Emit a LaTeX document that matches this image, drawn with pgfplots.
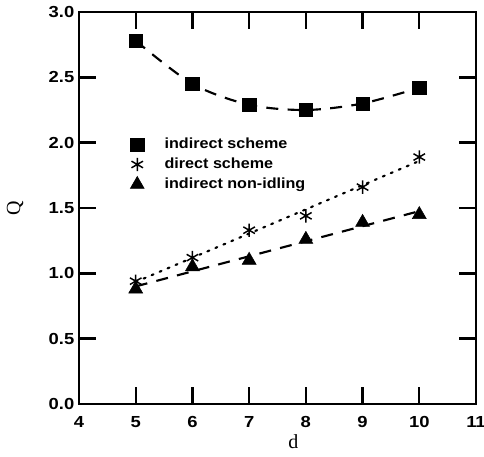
\documentclass[border=0pt]{standalone}
\usepackage{fontspec}
\setmainfont{Liberation Serif}
\newfontfamily\tickf[FakeStretch=1.15]{Liberation Sans}
\newfontfamily\legf[FakeStretch=1.1]{Liberation Sans}
\usepackage{pgfplots}
\pgfplotsset{compat=1.18}
\begin{document}
\begin{tikzpicture}
\useasboundingbox (-59.25pt,-39pt) rectangle (303.75pt,303pt);
\begin{axis}[
  scale only axis,
  width=297.75pt, height=294pt,
  xmin=4, xmax=11, ymin=0, ymax=3,
  xtick={4,5,6,7,8,9,10,11},
  ytick={0,0.5,1,1.5,2,2.5,3},
  axis line style={line width=1.8pt},
  major tick style={line width=1.8pt, black},
  major tick length=12.5pt,
  tick align=inside,
  /pgf/number format/assume math mode=true,
  yticklabel style={/pgf/number format/.cd, fixed, fixed zerofill, precision=1},
  ticklabel style={font=\tickf\bfseries\fontsize{12}{14}\selectfont},
  xticklabel style={yshift=-5.5pt},
  xlabel={d}, ylabel={Q},
  label style={font=\fontsize{15}{15}\selectfont},
  xlabel style={at={(axis description cs:0.54,-0.095)}, anchor=center},
  ylabel style={at={(axis description cs:-0.161,0.5)}, anchor=center},
  legend style={draw=none, fill=none, at={(axis cs:4.83,2.077)}, anchor=north west,
     font=\legf\bfseries\fontsize{11}{13}\selectfont, row sep=1.5pt},
  legend cell align=left,
  legend image code/.code={\draw[#1] plot coordinates {(0pt,0pt)}; \path[draw=none] (-5pt,0pt) (18.5pt,0pt);},
]
\addplot[only marks, mark=square*, mark size=5pt, black] coordinates {
(5,2.78) (6,2.45) (7,2.29) (8,2.25) (9,2.30) (10,2.42)};
\addlegendentry{indirect scheme}
\addplot[only marks, mark=asterisk, mark size=5pt, black, line width=1.1pt] coordinates {
(5,0.94) (6,1.12) (7,1.33) (8,1.44) (9,1.66) (10,1.89)};
\addlegendentry{direct scheme}
\addplot[only marks, mark=triangle*, mark size=6pt, black] coordinates {
(5,0.88) (6,1.05) (7,1.10) (8,1.26) (9,1.39) (10,1.45)};
\addlegendentry{indirect non-idling}
\addplot[forget plot, black, line width=1.6pt, dash pattern=on 9pt off 7pt, smooth] coordinates {
(5,2.78) (6,2.45) (7,2.29) (8,2.25) (9,2.30) (10,2.42)};
\addplot[forget plot, black, line width=1.6pt, dash pattern=on 1.5pt off 5pt, line cap=round] coordinates {
(5,0.934) (10,1.86)};
\addplot[forget plot, black, line width=1.6pt, dash pattern=on 9pt off 7pt] coordinates {
(5,0.90) (10,1.476)};
\end{axis}
\end{tikzpicture}
\end{document}
